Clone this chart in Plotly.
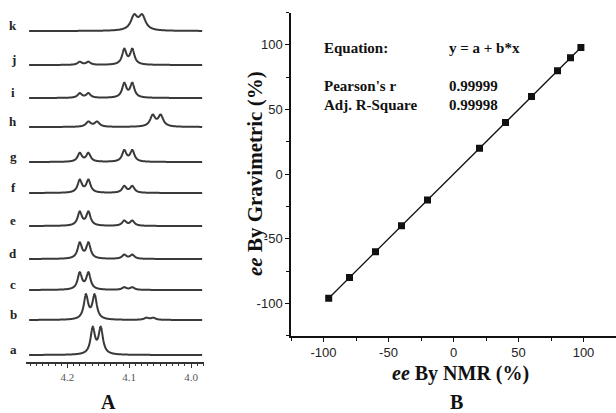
import numpy as np
import plotly.graph_objects as go

# ---------------- Panel A: stacked 1H NMR spectra ----------------
spec_labels = ["a", "b", "c", "d", "e", "f", "g", "h", "i", "j", "k"]
spec_offsets = [7, 42, 72, 103, 136, 169, 200, 235, 264, 297, 331]
# peak positions (ppm), heights and half-widths for each spectrum
peak_ppm = [
    [4.159, 4.146],
    [4.170, 4.156, 4.072, 4.061],
    [4.180, 4.166, 4.108, 4.095],
    [4.180, 4.166, 4.108, 4.095],
    [4.180, 4.166, 4.108, 4.095],
    [4.180, 4.166, 4.108, 4.095],
    [4.180, 4.166, 4.108, 4.095],
    [4.166, 4.152, 4.062, 4.049],
    [4.180, 4.166, 4.108, 4.095],
    [4.180, 4.166, 4.108, 4.095],
    [4.092, 4.079],
]
peak_height = [
    [26, 26],
    [24, 24, 2, 2],
    [16.5, 16.5, 2.5, 2.5],
    [15.5, 15.5, 4, 4],
    [13.5, 13.5, 5, 5],
    [12.5, 12.5, 6.5, 6.5],
    [8.5, 8.5, 11, 11],
    [5, 5, 11, 11],
    [4.5, 4.5, 14, 14],
    [3, 3, 15, 15],
    [14, 14],
]
peak_width = [
    [0.0042, 0.0042],
    [0.0042, 0.0042, 0.0045, 0.0045],
    [0.0042, 0.0042, 0.0042, 0.0042],
    [0.0042, 0.0042, 0.0042, 0.0042],
    [0.0042, 0.0042, 0.0042, 0.0042],
    [0.0042, 0.0042, 0.0042, 0.0042],
    [0.0042, 0.0042, 0.0042, 0.0042],
    [0.0048, 0.0048, 0.0050, 0.0050],
    [0.0042, 0.0042, 0.0042, 0.0042],
    [0.0042, 0.0042, 0.0042, 0.0042],
    [0.0065, 0.0065],
]
ppm_ticks = [4.2, 4.1, 4.0]
ppm_ticktext = ["4.2", "4.1", "4.0"]

# ---------------- Panel B: ee comparison ----------------
ee_nmr = [-96, -80, -60, -40, -20, 20, 40, 60, 80, 90, 98]
ee_grav = [-96, -80, -60, -40, -20, 20, 40, 60, 80, 90, 98]
b_ticks = [-100, -50, 0, 50, 100]
b_ticktext = ["-100", "-50", "0", "50", "100"]

W, H = 616, 413
fig = go.Figure()

ppm = np.linspace(4.262, 3.982, 2400)
for lab, off, pos, hts, wds in zip(spec_labels, spec_offsets, peak_ppm, peak_height, peak_width):
    y = np.full_like(ppm, float(off))
    for p, h, w in zip(pos, hts, wds):
        y += h / (1 + ((ppm - p) / w) ** 2)
    fig.add_trace(go.Scatter(x=ppm, y=y, mode="lines", xaxis="x", yaxis="y",
                             line=dict(color="#3a3a3a", width=2, shape="spline"), showlegend=False,
                             hoverinfo="skip"))
    fig.add_annotation(text="<b>%s</b>" % lab, x=13 / W, xref="paper", y=off + 6, yref="y",
                       xanchor="center", yanchor="middle",
                       showarrow=False, font=dict(family="Liberation Serif", size=13, color="#222"))

# panel B
coef = np.polyfit(ee_nmr, ee_grav, 1)
xf = np.array([min(ee_nmr), max(ee_nmr)])
fig.add_trace(go.Scatter(x=xf, y=coef[1] + coef[0] * xf, mode="lines", xaxis="x2", yaxis="y2",
                         line=dict(color="#111", width=1.3), showlegend=False))
fig.add_trace(go.Scatter(x=ee_nmr, y=ee_grav, mode="markers", xaxis="x2", yaxis="y2",
                         marker=dict(symbol="square", size=7, color="#111"), showlegend=False))

serif = "Liberation Serif"
txt = dict(showarrow=False, xref="paper", yref="paper", xanchor="left", yanchor="middle",
           font=dict(family=serif, size=15, color="#111"))
def py(px):
    return 1 - px / H
for t, xp, ypx in [("<b>Equation:</b>", 322, 48), ("<b>y = a + b*x</b>", 447, 48),
                   ("<b>Pearson's r</b>", 322, 86), ("<b>0.99999</b>", 447, 86),
                   ("<b>Adj. R-Square</b>", 322, 105), ("<b>0.99998</b>", 447, 105)]:
    fig.add_annotation(text=t, x=xp / W, y=py(ypx), **txt)

ctr = dict(showarrow=False, xref="paper", yref="paper", xanchor="center", yanchor="middle", borderpad=0)
fig.add_annotation(text="<b><i>ee</i> By NMR (%)</b>", x=460 / W, y=py(373),
                   font=dict(family=serif, size=20, color="#111"), **ctr)
fig.add_annotation(text="<b><i>ee</i> By Gravimetric (%)</b>", x=255 / W, y=py(174), textangle=-90,
                   font=dict(family=serif, size=21, color="#111"), **ctr)
fig.add_annotation(text="<b>B</b>", x=456 / W, y=py(402),
                   font=dict(family=serif, size=20, color="#111"), **ctr)
fig.add_annotation(text="<b>A</b>", x=108 / W, y=py(402),
                   font=dict(family=serif, size=20, color="#111"), **ctr)

sans = "Liberation Sans Narrow, Arial Narrow, Liberation Sans"
fig.update_layout(
    width=W, height=H, margin=dict(l=0, r=0, t=0, b=0),
    paper_bgcolor="white", plot_bgcolor="white",
    xaxis=dict(domain=[26 / W, 204 / W], range=[4.267, 3.979], anchor="y",
               showline=True, linecolor="#333", linewidth=1.5, showgrid=False, zeroline=False,
               tickvals=ppm_ticks, ticktext=ppm_ticktext, ticks="outside", ticklen=4,
               tickcolor="#333", minor=dict(dtick=0.01, ticks="outside", ticklen=2, tickcolor="#333"),
               tickfont=dict(family=serif, size=11, color="#555")),
    yaxis=dict(domain=[1 - 362 / H, 1], range=[0, 362], visible=False, anchor="x"),
    xaxis2=dict(domain=[291 / W, 1], range=[-125, 125], anchor="y2",
                showline=True, linecolor="#111", linewidth=2, showgrid=False, zeroline=False,
                tickvals=b_ticks, ticktext=b_ticktext, ticks="outside", ticklen=4, tickcolor="#111",
                minor=dict(dtick=25, tick0=0, ticks="outside", ticklen=3, tickcolor="#111"),
                tickfont=dict(family=sans, size=13, color="#222")),
    yaxis2=dict(domain=[1 - 335.7 / H, 1 - 12.6 / H], range=[-125, 125], anchor="x2",
                showline=True, linecolor="#111", linewidth=1.5, showgrid=False, zeroline=False,
                tickvals=b_ticks, ticktext=b_ticktext, ticks="outside", ticklen=4, tickcolor="#111",
                minor=dict(dtick=25, tick0=0, ticks="outside", ticklen=3, tickcolor="#111"),
                tickfont=dict(family=sans, size=13, color="#222")),
)
fig.write_html("out.html", config={"displayModeBar": False},
               post_script="document.body.style.margin='0';document.body.style.overflow='hidden';")
